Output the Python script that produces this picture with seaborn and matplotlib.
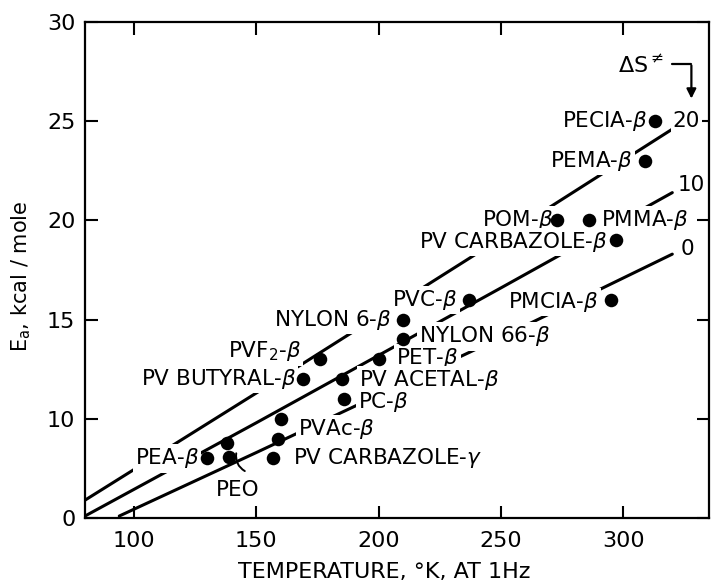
import matplotlib
matplotlib.use("Agg")
import matplotlib.pyplot as plt
import seaborn as sns
import pandas as pd

# Secondary relaxations: loss-peak temperature at 1 Hz (K) and activation energy (kcal/mole)
point_names = ["PECIA-β", "PEMA-β", "POM-β", "PMMA-β", "PV CARBAZOLE-β", "PMCIA-β", "PVC-β",
               "NYLON 6-β", "NYLON 66-β", "PET-β", "PV ACETAL-β", "PC-β", "PVAc-β", "PVAc-β",
               "PV CARBAZOLE-γ", "PVF2-β", "PV BUTYRAL-β", "PEA-β", "PEO", "PEO"]
point_T = [313, 309, 273, 286, 297, 295, 237, 210, 210, 200, 185, 186, 160, 159,
           157, 176, 169, 130, 138, 139]
point_Ea = [25, 23, 20, 20, 19, 16, 16, 15, 14, 13, 12, 11, 10, 9,
            8, 13, 12, 8, 8.8, 8.1]

# Reference lines of constant activation entropy (e.u.)
entropy_levels = ["0", "10", "20"]
line0_T = [94, 150, 200, 250, 320]
line0_Ea = [5.1, 8.3, 11.2, 14.1, 18.3]
line10_T = [80, 150, 200, 250, 320]
line10_Ea = [5.1, 9.8, 13.2, 16.6, 21.4]
line20_T = [80, 150, 200, 250, 320]
line20_Ea = [5.9, 11.3, 15.2, 19.1, 24.6]

xticks = [100, 150, 200, 250, 300]
yticks = [5, 10, 15, 20, 25, 30]
ytick_labels = ["0", "10", "15", "20", "25", "30"]

points = pd.DataFrame({"name": point_names, "T": point_T, "Ea": point_Ea})
lines = pd.concat([
    pd.DataFrame({"T": line0_T, "Ea": line0_Ea, "dS": entropy_levels[0]}),
    pd.DataFrame({"T": line10_T, "Ea": line10_Ea, "dS": entropy_levels[1]}),
    pd.DataFrame({"T": line20_T, "Ea": line20_Ea, "dS": entropy_levels[2]}),
])

sns.set_style("ticks")
plt.rcParams["font.family"] = ["DejaVu Sans"]
plt.rcParams["mathtext.fontset"] = "dejavusans"
plt.rcParams["text.color"] = "black"
plt.rcParams["axes.labelcolor"] = "black"
plt.rcParams["xtick.color"] = "black"
plt.rcParams["ytick.color"] = "black"
plt.rcParams["axes.edgecolor"] = "black"

fig = plt.figure(figsize=(7.12, 5.85), dpi=100)
ax = fig.add_axes([0.1194, 0.1145, 0.8764, 0.8479])

for level in entropy_levels:
    sub = lines[lines["dS"] == level]
    sns.lineplot(data=sub, x="T", y="Ea", color="black", linewidth=2.2,
                 estimator=None, sort=False, ax=ax, zorder=2)

sns.scatterplot(data=points, x="T", y="Ea", color="black", s=95,
                edgecolor="black", linewidth=0, ax=ax, zorder=5)

ax.set_xlim(80, 335)
ax.set_ylim(5, 30)
ax.set_xticks(xticks)
ax.set_yticks(yticks, labels=ytick_labels)

for side in ["left", "right", "top", "bottom"]:
    ax.spines[side].set_visible(True)
    ax.spines[side].set_linewidth(1.6)
    ax.spines[side].set_color("black")

ax.tick_params(axis="both", which="major", direction="in", length=9, width=1.5,
               top=True, right=True, labelsize=16, pad=7, colors="black")
ax.tick_params(axis="x", pad=9)

ax.set_xlabel("TEMPERATURE, °K, AT 1Hz", fontsize=16, color="black")
ax.set_ylabel("E$_{\\mathrm{a}}$, kcal / mole", fontsize=15, color="black")
ax.xaxis.set_label_coords(0.479, -0.109)
ax.xaxis.label.set_va("center")
ax.yaxis.set_label_coords(-0.103, 0.488)
ax.yaxis.label.set_va("center")

box = dict(facecolor="white", edgecolor="none", pad=1.5)
label_specs = [
    ("PECIA-$\\beta$", 310.0, 25.0, "right"),
    ("PEMA-$\\beta$", 303.9, 23.0, "right"),
    ("POM-$\\beta$", 271.2, 20.0, "right"),
    ("PMMA-$\\beta$", 290.8, 20.0, "left"),
    ("PV CARBAZOLE-$\\beta$", 293.7, 18.9, "right"),
    ("PMCIA-$\\beta$", 290.0, 15.9, "right"),
    ("PVC-$\\beta$", 232.4, 16.0, "right"),
    ("NYLON 6-$\\beta$", 205.1, 15.0, "right"),
    ("NYLON 66-$\\beta$", 216.5, 14.15, "left"),
    ("PET-$\\beta$", 207.1, 13.05, "left"),
    ("PV ACETAL-$\\beta$", 192.0, 11.95, "left"),
    ("PC-$\\beta$", 191.6, 10.85, "left"),
    ("PVAc-$\\beta$", 167.1, 9.5, "left"),
    ("PV CARBAZOLE-$\\gamma$", 165.1, 8.0, "left"),
    ("PVF$_2$-$\\beta$", 168.4, 13.4, "right"),
    ("PV BUTYRAL-$\\beta$", 166.3, 12.0, "right"),
    ("PEA-$\\beta$", 126.7, 8.0, "right"),
    ("PEO", 142.2, 6.4, "center"),
    ("20", 320.2, 25.0, "left"),
    ("10", 322.2, 21.8, "left"),
    ("0", 323.5, 18.55, "left"),
]
for text, x, y, ha in label_specs:
    ax.text(x, y, text, ha=ha, va="center", fontsize=15.5, bbox=box, zorder=3)

# curved leader from the PEO label to its points
ax.annotate("", xy=(142.0, 8.4), xytext=(146.3, 7.3),
            arrowprops=dict(arrowstyle="-", color="black", lw=1.4,
                            connectionstyle="arc3,rad=-0.4"), zorder=3)

# activation-entropy key with bent arrow
ax.text(307.3, 27.8, "$\\Delta$S$^{\\neq}$", ha="center", va="center", fontsize=16, zorder=3)
ax.plot([319.8, 327.8], [27.9, 27.9], color="black", lw=1.6, zorder=3)
ax.annotate("", xy=(327.8, 26.0), xytext=(327.8, 27.95),
            arrowprops=dict(arrowstyle="-|>", color="black", lw=1.6,
                            mutation_scale=14), zorder=3)

fig.savefig("out.png", dpi=100)
